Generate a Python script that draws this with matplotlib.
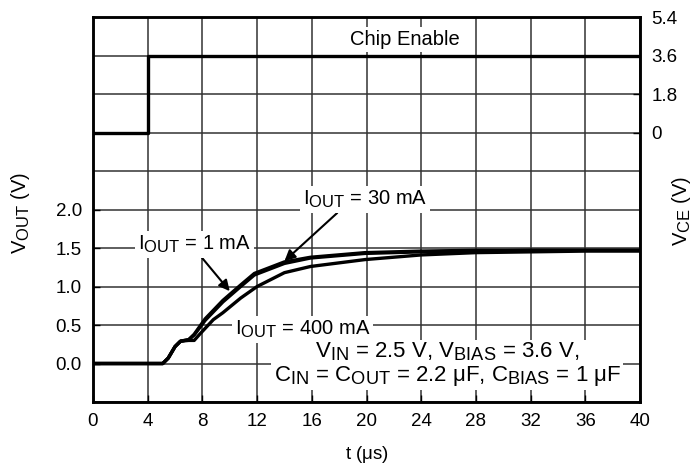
import matplotlib
matplotlib.use('Agg')
import matplotlib.pyplot as plt
import matplotlib._mathtext as mathtext_internal

plt.rcParams['font.family'] = ['Liberation Sans', 'DejaVu Sans']
plt.rcParams['mathtext.fontset'] = 'custom'
plt.rcParams['mathtext.rm'] = 'Liberation Sans'
plt.rcParams['mathtext.it'] = 'Liberation Sans:italic'
# datasheet subscripts are only a little smaller than the body text
mathtext_internal.SHRINK_FACTOR = 0.82

# ── Data ────────────────────────────────────────────────────────
t_ce = [0, 4, 4, 40]
v_ce = [0, 0, 3.57, 3.57]

t_1ma = [0, 5.1, 5.5, 6.0, 6.4, 7.0, 7.4, 8.2, 9.5, 10.8, 11.8, 14.0, 15.9, 19.9, 24, 28, 32, 36, 40]
v_1ma = [0, 0, 0.07, 0.22, 0.29, 0.31, 0.38, 0.58, 0.82, 1.02, 1.17, 1.32, 1.38, 1.44, 1.46, 1.47, 1.47, 1.47, 1.47]

t_30ma = [0, 5.1, 5.5, 6.0, 6.4, 7.0, 7.4, 8.2, 9.5, 10.8, 11.8, 14.0, 15.9, 19.9, 24, 28, 32, 36, 40]
v_30ma = [0, 0, 0.07, 0.22, 0.29, 0.31, 0.37, 0.56, 0.80, 1.00, 1.15, 1.30, 1.37, 1.43, 1.45, 1.46, 1.47, 1.47, 1.47]

t_400ma = [0, 5.1, 5.5, 6.0, 6.4, 7.0, 7.4, 7.8, 8.8, 9.5, 10.8, 12.0, 14.0, 15.9, 19.9, 24, 28, 32, 36, 40]
v_400ma = [0, 0, 0.07, 0.22, 0.29, 0.30, 0.30, 0.38, 0.57, 0.66, 0.85, 1.00, 1.18, 1.26, 1.35, 1.41, 1.44, 1.45, 1.46, 1.46]

x_ticks = [0, 4, 8, 12, 16, 20, 24, 28, 32, 36, 40]
vout_ticks = [0.0, 0.5, 1.0, 1.5, 2.0]
vout_grid = [-0.5, 0.0, 0.5, 1.0, 1.5, 2.0, 2.5, 3.0, 3.5, 4.0, 4.5]
vce_ticks = [0, 1.8, 3.6, 5.4]

FS_TICK = 13.5
FS_NOTE = 14.5

# ── Figure ──────────────────────────────────────────────────────
fig = plt.figure(figsize=(6.95, 4.66), dpi=100)
ax = fig.add_axes([0.1338, 0.1373, 0.9209 - 0.1338, 0.9635 - 0.1373])
ax.set_xlim(0, 40)
ax.set_ylim(-0.5, 4.5)

# grid drawn by hand so every division shows, labels sit on top
for x in x_ticks:
    ax.axvline(x, color='#333333', linewidth=1.1, zorder=1)
for y in vout_grid:
    ax.axhline(y, color='#333333', linewidth=1.1, zorder=1)

ax.plot(t_400ma, v_400ma, color='black', linewidth=2.4, zorder=4, solid_capstyle='round')
ax.plot(t_30ma, v_30ma, color='black', linewidth=2.4, zorder=4, solid_capstyle='round')
ax.plot(t_1ma, v_1ma, color='black', linewidth=2.4, zorder=4, solid_capstyle='round')

ax.set_xticks(x_ticks)
ax.set_xticklabels([str(x) for x in x_ticks])
ax.set_yticks(vout_ticks)
ax.set_yticklabels([f'{v:.1f}' for v in vout_ticks])
ax.tick_params(direction='in', length=5, labelsize=FS_TICK, width=1, pad=8)

for s in ax.spines.values():
    s.set_linewidth(1.8)

ax.set_xlabel(r't ($\mathrm{\mu}$s)', fontsize=FS_TICK, labelpad=10)
ax.set_ylabel(r'V$_{\mathrm{OUT}}$ (V)', fontsize=FS_NOTE, ha='center', va='center')
ax.yaxis.set_label_coords(-0.133, 0.49)

box = dict(facecolor='white', edgecolor='none', pad=2)
ax.text(22.8, 4.21, 'Chip Enable', fontsize=FS_NOTE, ha='center', va='center',
        bbox=box, zorder=3)

ax.annotate(r'I$_{\mathrm{OUT}}$ = 30 mA', xy=(14.0, 1.33), xytext=(19.9, 2.13),
            fontsize=FS_NOTE, ha='center', va='center', bbox=box, zorder=3,
            arrowprops=dict(arrowstyle='-|>', color='black', lw=1.5,
                            mutation_scale=16, shrinkA=0, shrinkB=0,
                            relpos=(0.3, 0.0)))
ax.annotate(r'I$_{\mathrm{OUT}}$ = 1 mA', xy=(10.0, 0.94), xytext=(7.4, 1.545),
            fontsize=FS_NOTE, ha='center', va='center', bbox=box, zorder=3,
            arrowprops=dict(arrowstyle='-|>', color='black', lw=1.5,
                            mutation_scale=16, shrinkA=0, shrinkB=0,
                            relpos=(0.55, 0.0)))
ax.text(10.4, 0.44, r'I$_{\mathrm{OUT}}$ = 400 mA', fontsize=FS_NOTE, ha='left', va='center',
        bbox=box, zorder=3)
ax.text(25.9, -0.01,
        'V$_{\\mathrm{IN}}$ = 2.5 V, V$_{\\mathrm{BIAS}}$ = 3.6 V,\n'
        'C$_{\\mathrm{IN}}$ = C$_{\\mathrm{OUT}}$ = 2.2 $\\mathrm{\\mu}$F, C$_{\\mathrm{BIAS}}$ = 1 $\\mathrm{\\mu}$F',
        fontsize=16, ha='center', va='center', multialignment='center',
        linespacing=1.02, bbox=box, zorder=3)

# ── Chip enable on the right-hand scale ─────────────────────────
ax2 = ax.twinx()
ax2.set_ylim(-12.6, 5.4)
ax2.plot(t_ce, v_ce, color='black', linewidth=2.4, zorder=4)
ax2.set_yticks(vce_ticks)
ax2.set_yticklabels(['0', '1.8', '3.6', '5.4'])
ax2.tick_params(direction='in', length=5, labelsize=FS_TICK, width=1, pad=8)
ax2.set_ylabel(r'V$_{\mathrm{CE}}$ (V)', fontsize=FS_NOTE, ha='center', va='center')
ax2.yaxis.set_label_coords(1.075, 0.496)
for s in ax2.spines.values():
    s.set_linewidth(1.8)

fig.savefig('out.png', dpi=100)
